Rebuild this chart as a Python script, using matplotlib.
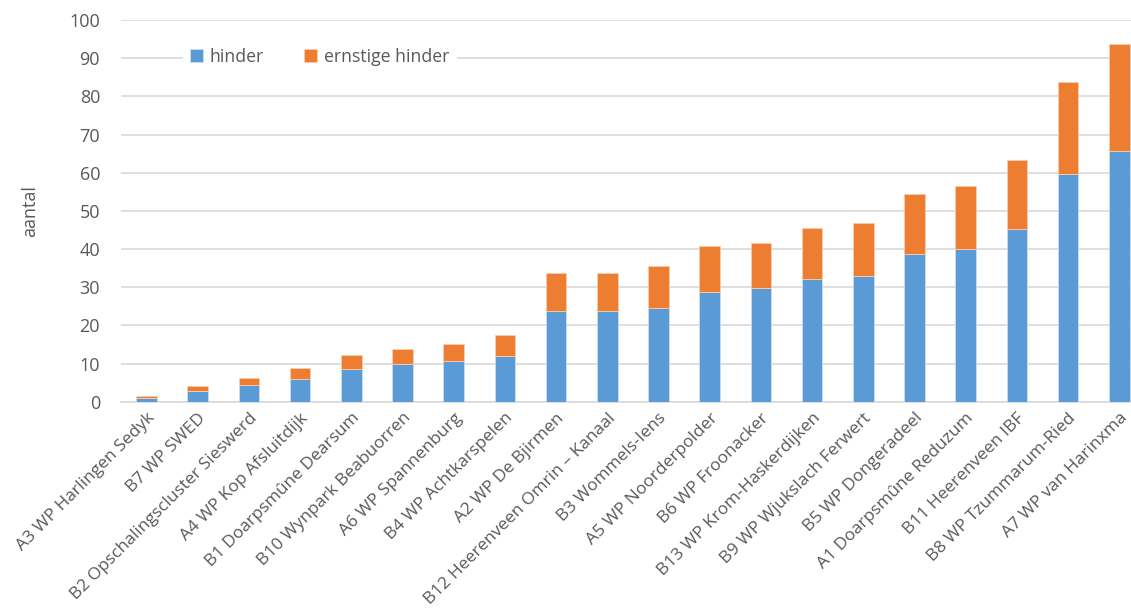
import matplotlib
matplotlib.use("Agg")
import matplotlib.pyplot as plt
import numpy as np

categories = [
    "A3 WP Harlingen Sedyk", "B7 WP SWED", "B2 Opschalingscluster Sieswerd",
    "A4 WP Kop Afsluitdijk", "B1 Doarpsmûne Dearsum", "B10 Wynpark Beabuorren",
    "A6 WP Spannenburg", "B4 WP Achtkarspelen", "A2 WP De Bjirmen",
    "B12 Heerenveen Omrin – Kanaal", "B3 Wommels-Iens", "A5 WP Noorderpolder",
    "B6 WP Froonacker", "B13 WP Krom-Haskerdijken", "B9 WP Wjukslach Ferwert",
    "B5 WP Dongeradeel", "A1 Doarpsmûne Reduzum", "B11 Heerenveen IBF",
    "B8 WP Tzummarum-Ried", "A7 WP van Harinxma",
]
hinder = [1.1, 2.8, 4.3, 6.0, 8.5, 10.0, 10.6, 12.0, 23.7, 23.7,
          24.5, 28.8, 29.8, 32.1, 33.0, 38.7, 40.1, 45.2, 59.7, 65.6]
ernstige_hinder = [0.5, 1.2, 2.0, 2.8, 3.8, 3.9, 4.5, 5.4, 9.9, 9.9,
                   11.0, 11.9, 11.9, 13.4, 13.7, 15.6, 16.5, 18.2, 24.1, 28.1]
y_ticks = list(range(0, 101, 10))

BLUE = "#5B9BD5"
ORANGE = "#ED7D31"
GRID = "#D9D9D9"
TEXT = "#595959"

plt.rcParams["font.family"] = ["Open Sans", "DejaVu Sans"]

fig = plt.figure(figsize=(11.31, 6.16), dpi=100)
ax = fig.add_axes([120.9 / 1131, 1 - 401.7 / 616, 1024 / 1131, (401.7 - 20) / 616])

x = np.arange(len(categories))
ax.bar(x, hinder, width=0.4, color=BLUE, edgecolor="#C9DDF1", linewidth=0.6,
       label="hinder", zorder=3)
ax.bar(x, ernstige_hinder, width=0.4, bottom=hinder, color=ORANGE,
       edgecolor="#F8CDB0", linewidth=0.6, label="ernstige hinder", zorder=3)

ax.set_xlim(-0.5, len(categories) - 0.5)
ax.set_ylim(0, 100)
ax.set_yticks(y_ticks)
ax.yaxis.grid(True, color=GRID, linewidth=1.2, zorder=0)
ax.set_axisbelow(True)
for s in ["top", "right", "left"]:
    ax.spines[s].set_visible(False)
ax.spines["bottom"].set_color(GRID)
ax.spines["bottom"].set_linewidth(1.2)
ax.tick_params(axis="both", length=0, colors=TEXT)
ax.tick_params(axis="y", labelsize=13, pad=15)

ax.set_xticks(x)
ax.set_xticklabels(categories, rotation=45, ha="right", rotation_mode="anchor",
                   fontsize=12.5, color=TEXT)
ax.tick_params(axis="x", pad=6)

ax.set_ylabel("aantal", fontsize=13, color=TEXT, labelpad=22)

leg = ax.legend(loc="upper left", bbox_to_anchor=(0.052, 0.968), ncol=2,
                frameon=True, fontsize=12.7, handlelength=0.75, handleheight=0.75,
                handletextpad=0.35, columnspacing=2.3, borderpad=0.4)
leg.get_frame().set_edgecolor("white")
leg.get_frame().set_facecolor("white")
leg.get_frame().set_alpha(1)
for t in leg.get_texts():
    t.set_color(TEXT)

fig.savefig("out.png", dpi=100)
